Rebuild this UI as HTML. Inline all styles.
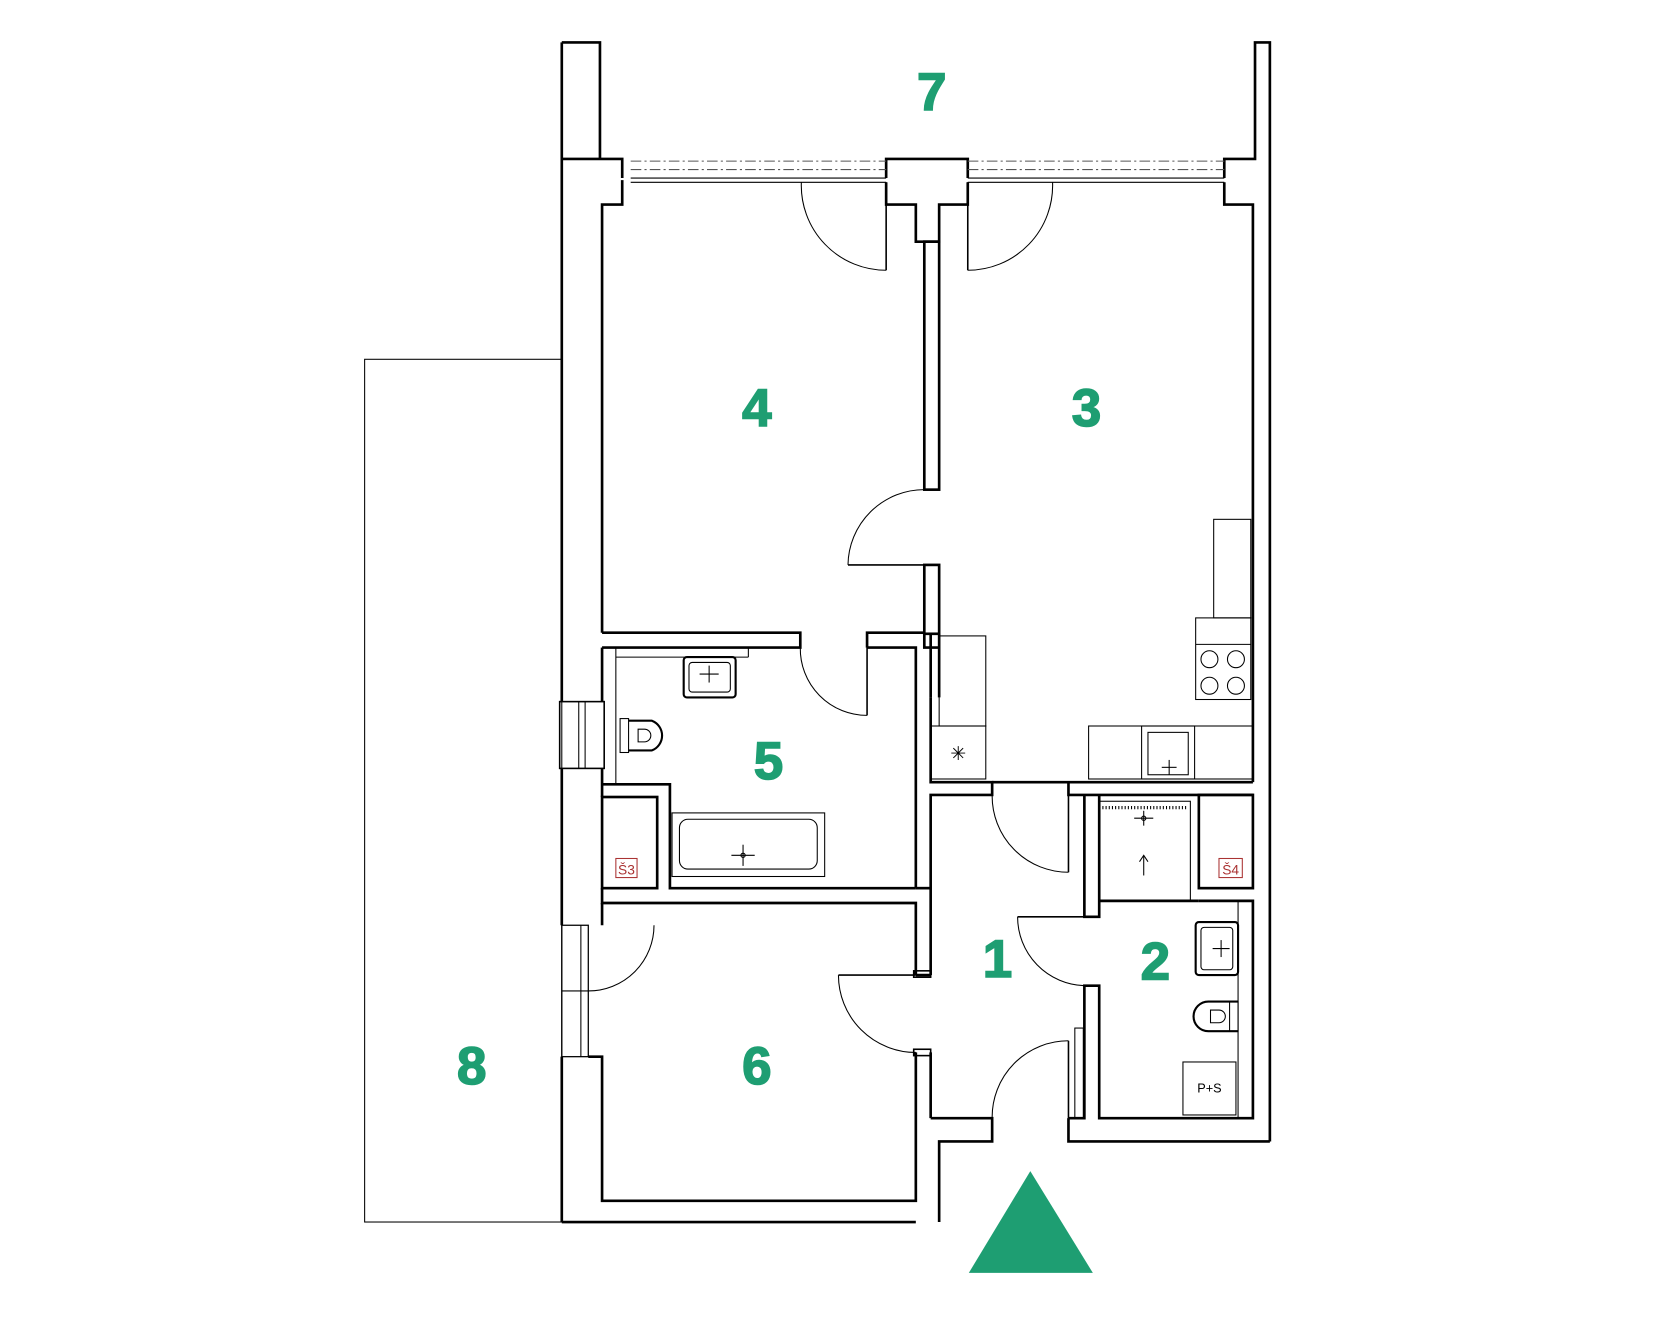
<!DOCTYPE html>
<html><head><meta charset="utf-8"><style>
html,body{margin:0;padding:0;background:#fff;}
svg{display:block;}
.n{font-family:"Liberation Sans",sans-serif;font-weight:900;fill:#1e9e72;font-size:50px;text-anchor:middle;stroke:#1e9e72;stroke-width:1.5;}
</style></head><body>
<svg width="1661" height="1328" viewBox="0 0 1567 1253" preserveAspectRatio="none" xmlns="http://www.w3.org/2000/svg">
<rect width="1567" height="1253" fill="#fff"/>
<g fill="none" stroke="#000" stroke-width="2.5" stroke-linejoin="miter">
<polyline points="530,40 566,40 566,150"/>
<line x1="530" y1="40" x2="530" y2="662"/>
<line x1="530" y1="725" x2="530" y2="873"/>
<line x1="530" y1="997" x2="530" y2="1153"/>
<line x1="530" y1="1153" x2="864" y2="1153"/>
<polyline points="530,150 587,150 587,168"/>
<polyline points="568,597 568,193 587,193 587,170"/>
<polyline points="836,168 836,150 913,150 913,168"/>
<polyline points="836,172 836,193 864,193 864,228 886,228 886,193 913,193 913,172"/>
<rect x="872" y="228" width="14" height="234"/>
<polyline points="1155,168 1155,150 1184,150 1184,40 1198,40 1198,1077"/>
<polyline points="1155,172 1155,193 1182,193 1182,738"/>
<polyline points="568,597 755,597 755,611 568,611"/>
<polyline points="818,611 818,597 872,597"/>
<polyline points="818,611 864,611 864,838"/>
<rect x="872" y="533" width="14" height="65"/>
<polyline points="872,598 872,611 886,611"/>
<line x1="878" y1="598" x2="878" y2="658"/>
<line x1="886" y1="598" x2="886" y2="658"/>
<polyline points="878,658 878,738 936,738 936,750 878,750 878,920"/>
<line x1="936" y1="738" x2="1182" y2="738"/>
<polyline points="1008,738 1008,750 1182,750"/>
<line x1="568" y1="611" x2="568" y2="662"/>
<line x1="568" y1="725" x2="568" y2="752"/>
<rect x="528" y="662" width="42" height="63" stroke-width="1.5"/>
<line x1="546" y1="662" x2="546" y2="725" stroke-width="1"/>
<line x1="552" y1="662" x2="552" y2="725" stroke-width="1"/>
<polyline points="568,740 632,740 632,838 864,838"/>
<rect x="568" y="752" width="52" height="86"/>
<polyline points="568,838 568,852 864,852 864,920"/>
<line x1="568" y1="852" x2="568" y2="873"/>
<rect x="530" y="873" width="25" height="124" stroke-width="1.2"/>
<line x1="548" y1="873" x2="548" y2="997" stroke-width="1"/>
<line x1="530" y1="935" x2="555" y2="935" stroke-width="1"/>
<polyline points="555,997 568,997 568,1133 864,1133 864,993"/>
<rect x="862" y="990" width="16" height="6" stroke-width="1.5"/>
<rect x="862" y="916" width="16" height="6" stroke-width="1.5"/>
<line x1="864" y1="838" x2="878" y2="838"/>
<line x1="864" y1="920" x2="878" y2="920"/>
<line x1="878" y1="993" x2="878" y2="1055"/>
<polyline points="878,1055 936,1055 936,1077 886,1077 886,1153"/>
<polyline points="1008,1055 1008,1077 1198,1077"/>
<polyline points="1008,1055 1023,1055 1023,930 1037,930 1037,1055 1182,1055 1182,850 1131,850"/>
<polyline points="1023,750 1023,865 1037,865 1037,750"/>
<rect x="1131" y="750" width="51" height="88"/>
<line x1="1037" y1="850" x2="1131" y2="850"/>
</g>
<g fill="none" stroke="#000" stroke-width="1">
<rect x="344" y="339" width="186" height="814"/>
<g stroke="#555" stroke-dasharray="10,3,2,3">
<line x1="595" y1="152" x2="836" y2="152"/><line x1="595" y1="160" x2="836" y2="160"/>
<line x1="913" y1="152" x2="1155" y2="152"/><line x1="913" y1="160" x2="1155" y2="160"/>
</g>
<line x1="595" y1="168" x2="836" y2="168"/><line x1="595" y1="172" x2="836" y2="172"/>
<line x1="913" y1="168" x2="1155" y2="168"/><line x1="913" y1="172" x2="1155" y2="172"/>
<line x1="836" y1="172" x2="836" y2="255" stroke-width="1.5"/><path d="M756,172 A80,80 0 0 0 836,255"/>
<line x1="913" y1="172" x2="913" y2="255" stroke-width="1.5"/><path d="M993,172 A80,80 0 0 1 913,255"/>
<line x1="800" y1="533" x2="872" y2="533" stroke-width="1.5"/><path d="M872,462 A72,72 0 0 0 800,533"/>
<line x1="818" y1="611" x2="818" y2="675" stroke-width="1.5"/><path d="M755,611 A63,63 0 0 0 818,675"/>
<line x1="1008" y1="750" x2="1008" y2="823" stroke-width="1.5"/><path d="M936,750 A72,72 0 0 0 1008,823"/>
<line x1="960" y1="865" x2="1023" y2="865" stroke-width="1.5"/><path d="M960,865 A65,65 0 0 0 1023,930"/>
<line x1="791" y1="920" x2="864" y2="920" stroke-width="1.5"/><path d="M791,920 A73,73 0 0 0 864,993"/>
<line x1="1008" y1="982" x2="1008" y2="1055" stroke-width="1.5"/><path d="M936,1055 A72,72 0 0 1 1008,982"/>
<rect x="1014" y="970" width="8" height="85"/>
<path d="M617,873 A62,62 0 0 1 555,935"/>
<rect x="886" y="600" width="44" height="85"/>
<rect x="878" y="685" width="52" height="50"/>
<text x="904" y="717" font-family="DejaVu Sans" font-size="18" text-anchor="middle" fill="#000" stroke="none">✳</text>
<rect x="1027" y="685" width="155" height="50"/>
<rect x="1077" y="685" width="50" height="50"/><rect x="1083" y="691" width="38" height="40"/>
<line x1="1096" y1="724" x2="1110" y2="724"/><line x1="1103" y1="717" x2="1103" y2="731"/>
<rect x="1128" y="583" width="52" height="77"/><line x1="1128" y1="608" x2="1180" y2="608"/>
<circle cx="1141" cy="622" r="8"/><circle cx="1166" cy="622" r="8"/><circle cx="1141" cy="647" r="8"/><circle cx="1166" cy="647" r="8"/>
<rect x="1145" y="490" width="35" height="93"/>
<line x1="581" y1="611" x2="581" y2="740"/><line x1="581" y1="620" x2="706" y2="620"/><line x1="706" y1="611" x2="706" y2="620"/>
<rect x="645" y="620" width="49" height="38" rx="3" stroke-width="2"/><rect x="650" y="625" width="39" height="28" rx="3"/>
<line x1="660" y1="636" x2="678" y2="636"/><line x1="669" y1="628" x2="669" y2="644"/>
<rect x="585" y="678" width="8" height="32"/>
<path d="M593,680 L615,680 A15,15 0 0 1 615,708 L593,708" stroke-width="2"/>
<path d="M602,688 h6 a6,6 0 0 1 0,12 h-6 z"/>
<rect x="634" y="767" width="144" height="60"/><rect x="641" y="773" width="130" height="47" rx="8"/>
<line x1="634" y1="827" x2="778" y2="827"/>
<line x1="690" y1="807" x2="712" y2="807"/><line x1="701" y1="797" x2="701" y2="817"/><circle cx="701" cy="807" r="2"/>
<rect x="1037" y="756" width="86" height="94"/>
<line x1="1040" y1="762" x2="1120" y2="762" stroke-dasharray="1,2" stroke-width="3"/>
<line x1="1070" y1="772" x2="1088" y2="772"/><line x1="1079" y1="765" x2="1079" y2="779"/><circle cx="1079" cy="772" r="2"/>
<line x1="1079" y1="808" x2="1079" y2="826"/><path d="M1075,813 L1079,807 L1083,813"/>
<line x1="1168" y1="850" x2="1168" y2="1055"/>
<rect x="1128" y="870" width="40" height="50" rx="3" stroke-width="2"/><rect x="1133" y="875" width="30" height="40" rx="3"/>
<line x1="1144" y1="895" x2="1160" y2="895"/><line x1="1152" y1="887" x2="1152" y2="903"/>
<path d="M1168,945 L1140,945 A14,14 0 0 0 1140,973 L1168,973" stroke-width="2"/>
<rect x="1160" y="945" width="8" height="28"/>
<path d="M1142,953 h8 a6,6 0 0 1 0,12 h-8 z"/>
<rect x="1116" y="1002" width="50" height="50"/>
</g>
<text x="1141" y="1031" font-family="Liberation Sans" font-size="12" text-anchor="middle">P+S</text>
<rect x="581" y="810" width="20" height="18" fill="none" stroke="#a33" stroke-width="1"/>
<text x="591" y="825" font-family="Liberation Sans" font-size="13" fill="#a33" text-anchor="middle">Š3</text>
<rect x="1150" y="810" width="22" height="18" fill="none" stroke="#a33" stroke-width="1"/>
<text x="1161" y="825" font-family="Liberation Sans" font-size="13" fill="#a33" text-anchor="middle">Š4</text>
<text class="n" x="879" y="104">7</text>
<text class="n" x="714" y="402">4</text>
<text class="n" x="1025" y="402">3</text>
<text class="n" x="725" y="735">5</text>
<text class="n" x="941" y="922">1</text>
<text class="n" x="1090" y="924">2</text>
<text class="n" x="714" y="1023">6</text>
<text class="n" x="445" y="1023">8</text>
<polygon points="914,1201 972,1105 1031,1201" fill="#1e9e72"/>
</svg>
</body></html>
